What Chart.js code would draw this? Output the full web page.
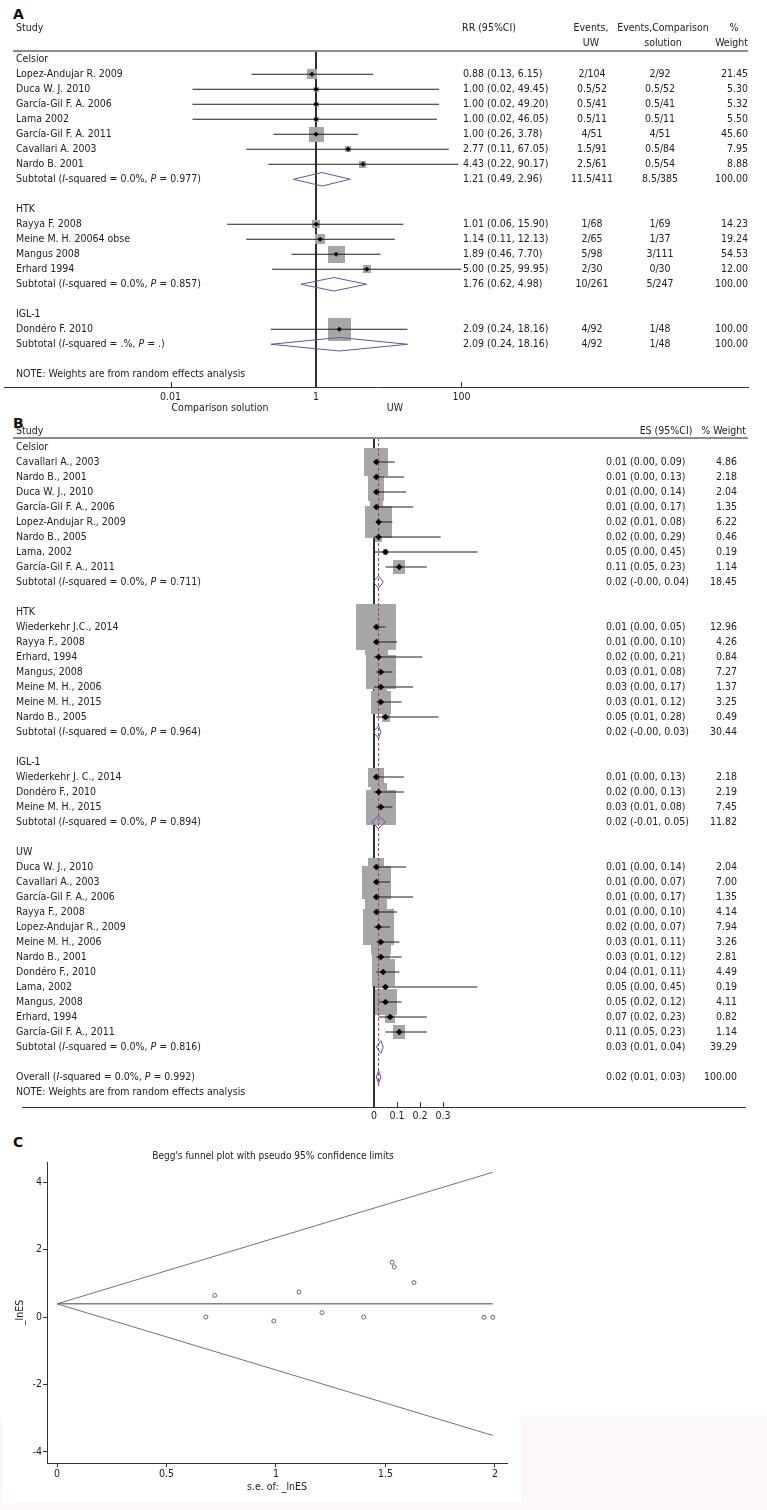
<!DOCTYPE html>
<html>
<head>
<meta charset="utf-8">
<title>Forest and funnel plots</title>
<script src="https://cdn.jsdelivr.net/npm/chart.js@4.4.1/dist/chart.umd.min.js"></script>
<style>
  html, body { margin: 0; padding: 0; background: #fff; }
  #page { position: relative; width: 767px; height: 1510px; overflow: hidden; background: #fff; }
  #page canvas { position: absolute; left: 0; }
  .panel { position: absolute; left: 13px; font: bold 14px 'DejaVu Sans', sans-serif; color: #111; }
  .tint { position: absolute; background: #fdf8f8; }
</style>
</head>
<body>
<div id="page">
  <div class="tint" style="left:0;top:1417px;width:767px;height:93px"></div>
  <div class="tint" style="left:3px;top:1417px;width:518px;height:86px;background:#fff"></div>
  <div class="panel" style="top:6px">A</div>
  <div class="panel" style="top:415px">B</div>
  <div class="panel" style="top:1134px">C</div>
  <canvas id="chartA" width="767" height="420" style="top:0"></canvas>
  <canvas id="chartB" width="767" height="725" style="top:415px"></canvas>
  <canvas id="chartC" width="767" height="370" style="top:1140px"></canvas>
</div>
<script>
'use strict';

/* A: risk ratio UW vs comparison solution; B: pooled incidence by solution; C: Begg's funnel plot. */

// ---------- Panel A data ----------
const A_GROUPS = ['Celsior', 'HTK', 'IGL-1'];
const A_STUDIES = [
  'Lopez-Andujar R. 2009', 'Duca W. J. 2010', 'García-Gil F. A. 2006', 'Lama 2002',
  'García-Gil F. A. 2011', 'Cavallari A. 2003', 'Nardo B. 2001',
  'Rayya F. 2008', 'Meine M. H. 20064 obse', 'Mangus 2008', 'Erhard 1994',
  'Dondéro F. 2010',
];
const A_GROUP_OF = [0, 0, 0, 0, 0, 0, 0, 1, 1, 1, 1, 2];
const A_RR = [0.88, 1.00, 1.00, 1.00, 1.00, 2.77, 4.43, 1.01, 1.14, 1.89, 5.00, 2.09];
const A_LO = [0.13, 0.02, 0.02, 0.02, 0.26, 0.11, 0.22, 0.06, 0.11, 0.46, 0.25, 0.24];
const A_HI = [6.15, 49.45, 49.20, 46.05, 3.78, 67.05, 90.17, 15.90, 12.13, 7.70, 99.95, 18.16];
const A_EV_UW = ['2/104', '0.5/52', '0.5/41', '0.5/11', '4/51', '1.5/91', '2.5/61', '1/68', '2/65', '5/98', '2/30', '4/92'];
const A_EV_CS = ['2/92', '0.5/52', '0.5/41', '0.5/11', '4/51', '0.5/84', '0.5/54', '1/69', '1/37', '3/111', '0/30', '1/48'];
const A_WEIGHT = [21.45, 5.30, 5.32, 5.50, 45.60, 7.95, 8.88, 14.23, 19.24, 54.53, 12.00, 100.00];
const A_SUB_RR = [1.21, 1.76, 2.09];
const A_SUB_LO = [0.49, 0.62, 0.24];
const A_SUB_HI = [2.96, 4.98, 18.16];
const A_SUB_I2 = ['0.0', '0.0', '.'];
const A_SUB_P = ['0.977', '0.857', '.'];
const A_SUB_EV_UW = ['11.5/411', '10/261', '4/92'];
const A_SUB_EV_CS = ['8.5/385', '5/247', '1/48'];
const A_SUB_WEIGHT = [100, 100, 100];
const A_NULL = 1;
const A_TICKS = [0.01, 1, 100];
const A_TICK_LABELS = ['0.01', '1', '100'];

// ---------- Panel B data ----------
const B_GROUPS = ['Celsior', 'HTK', 'IGL-1', 'UW'];
const B_STUDIES = [
  'Cavallari A., 2003', 'Nardo B., 2001', 'Duca W. J., 2010', 'García-Gil F. A., 2006',
  'Lopez-Andujar R., 2009', 'Nardo B., 2005', 'Lama, 2002', 'García-Gil F. A., 2011',
  'Wiederkehr J.C., 2014', 'Rayya F., 2008', 'Erhard, 1994', 'Mangus, 2008',
  'Meine M. H., 2006', 'Meine M. H., 2015', 'Nardo B., 2005',
  'Wiederkehr J. C., 2014', 'Dondéro F., 2010', 'Meine M. H., 2015',
  'Duca W. J., 2010', 'Cavallari A., 2003', 'García-Gil F. A., 2006', 'Rayya F., 2008',
  'Lopez-Andujar R., 2009', 'Meine M. H., 2006', 'Nardo B., 2001', 'Dondéro F., 2010',
  'Lama, 2002', 'Mangus, 2008', 'Erhard, 1994', 'García-Gil F. A., 2011',
];
const B_GROUP_OF = [0, 0, 0, 0, 0, 0, 0, 0, 1, 1, 1, 1, 1, 1, 1, 2, 2, 2,
  3, 3, 3, 3, 3, 3, 3, 3, 3, 3, 3, 3];
const B_ES = [0.01, 0.01, 0.01, 0.01, 0.02, 0.02, 0.05, 0.11,
  0.01, 0.01, 0.02, 0.03, 0.03, 0.03, 0.05,
  0.01, 0.02, 0.03,
  0.01, 0.01, 0.01, 0.01, 0.02, 0.03, 0.03, 0.04, 0.05, 0.05, 0.07, 0.11];
const B_LO = [0.00, 0.00, 0.00, 0.00, 0.01, 0.00, 0.00, 0.05,
  0.00, 0.00, 0.00, 0.01, 0.00, 0.01, 0.01,
  0.00, 0.00, 0.01,
  0.00, 0.00, 0.00, 0.00, 0.00, 0.01, 0.01, 0.01, 0.00, 0.02, 0.02, 0.05];
const B_HI = [0.09, 0.13, 0.14, 0.17, 0.08, 0.29, 0.45, 0.23,
  0.05, 0.10, 0.21, 0.08, 0.17, 0.12, 0.28,
  0.13, 0.13, 0.08,
  0.14, 0.07, 0.17, 0.10, 0.07, 0.11, 0.12, 0.11, 0.45, 0.12, 0.23, 0.23];
const B_WEIGHT = [4.86, 2.18, 2.04, 1.35, 6.22, 0.46, 0.19, 1.14,
  12.96, 4.26, 0.84, 7.27, 1.37, 3.25, 0.49,
  2.18, 2.19, 7.45,
  2.04, 7.00, 1.35, 4.14, 7.94, 3.26, 2.81, 4.49, 0.19, 4.11, 0.82, 1.14];
const B_SUB_ES = [0.02, 0.02, 0.02, 0.03];
const B_SUB_LO = [-0.003, -0.003, -0.01, 0.01];
const B_SUB_HI = [0.04, 0.03, 0.05, 0.04];
const B_SUB_I2 = ['0.0', '0.0', '0.0', '0.0'];
const B_SUB_P = ['0.711', '0.964', '0.894', '0.816'];
const B_SUB_WEIGHT = [18.45, 30.44, 11.82, 39.29];
const B_OVERALL = [0.02, 0.01, 0.03]; // ES, lower, upper
const B_OVERALL_I2 = '0.0';
const B_OVERALL_P = '0.992';
const B_OVERALL_WEIGHT = 100;
const B_NULL = 0;
const B_TICKS = [0, 0.1, 0.2, 0.3];
const B_TICK_LABELS = ['0', '0.1', '0.2', '0.3'];

// ---------- Panel C data ----------
const C_SE = [0.68, 0.72, 0.99, 1.105, 1.21, 1.40, 1.53, 1.54, 1.63, 1.95, 1.99];
const C_LNES = [0.00, 0.64, -0.12, 0.74, 0.13, 0.00, 1.62, 1.48, 1.02, -0.01, -0.01];
const C_LIMIT_SE = [0, 1.99];
const C_UPPER = [0.39, 4.29];
const C_LOWER = [0.39, -3.51];
const C_POOLED = [0.39, 0.39];
const C_X_TICKS = [0, 0.5, 1, 1.5, 2];
const C_Y_TICKS = [4, 2, 0, -2, -4];

// ---------- styling ----------
const FONT = "'DejaVu Sans Condensed', 'Liberation Sans', sans-serif";
const TEXT_SIZE = 10.5;
const TEXT = '#222';
const AXIS = '#333';
const RULE = '#8c8c8c';
const BOX = '#a6a6a6';
const DIAMOND = '#5858a8';
const DASH = '#9c3c6a';
const A_DECADE = 72.7; // px per decade on the RR axis
const B_UNIT = 230;    // px per unit on the ES axis

Chart.defaults.font.family = FONT;
Chart.defaults.font.size = TEXT_SIZE;
Chart.defaults.color = TEXT;

const fmt2 = (v) => v.toFixed(2);
const ci = (e, l, h) => `${fmt2(e)} (${fmt2(l)}, ${fmt2(h)})`;
const plain = (t) => [{ t }];
const hetero = (head, i2, p) => [
  { t: `${head} (` }, { t: 'I', it: true }, { t: `-squared = ${i2}%, ` },
  { t: 'P', it: true }, { t: ` = ${p})` },
];

function drawParts(ctx, parts, x, y, align, size) {
  const fonts = parts.map((p) => `${p.it ? 'italic ' : ''}${size}px ${FONT}`);
  const widths = parts.map((p, i) => { ctx.font = fonts[i]; return ctx.measureText(p.t).width; });
  const total = widths.reduce((a, b) => a + b, 0);
  let cx = align === 'right' ? x - total : align === 'center' ? x - total / 2 : x;
  ctx.textAlign = 'left';
  parts.forEach((p, i) => { ctx.font = fonts[i]; ctx.fillText(p.t, cx, y); cx += widths[i]; });
}

// Column text, heading rule, inward tick marks and tick labels for the forest plots.
const tablePlugin = {
  id: 'table',
  afterDraw(chart, args, opts) {
    const { ctx, chartArea } = chart;
    const ys = chart.scales.y;
    const xs = chart.scales.x;
    ctx.save();
    ctx.fillStyle = TEXT;
    ctx.textBaseline = 'middle';
    opts.cells.forEach((c) => {
      let py;
      if (c.row !== undefined) py = ys.getPixelForValue(c.row);
      else if (c.top !== undefined) py = chartArea.top + c.top;
      else py = chartArea.bottom + c.bottom;
      drawParts(ctx, c.parts, c.x, py, c.align, TEXT_SIZE);
    });
    xs.ticks.forEach((t, i) => {
      drawParts(ctx, plain(opts.tickLabels[i]), xs.getPixelForValue(t.value), chartArea.bottom + opts.tickDy, 'center', TEXT_SIZE);
    });
    ctx.strokeStyle = RULE;
    ctx.lineWidth = 2;
    ctx.beginPath();
    ctx.moveTo(13, chartArea.top);
    ctx.lineTo(748, chartArea.top);
    ctx.stroke();
    ctx.strokeStyle = AXIS;
    ctx.lineWidth = 1;
    xs.ticks.forEach((t) => {
      const px = Math.round(xs.getPixelForValue(t.value)) + 0.5;
      ctx.beginPath();
      ctx.moveTo(px, chartArea.bottom);
      ctx.lineTo(px, chartArea.bottom - 5);
      ctx.stroke();
    });
    ctx.restore();
  },
};

const boxCache = new Map();
function boxImage(w, h) {
  const bw = Math.max(1, Math.round(w));
  const bh = Math.max(1, Math.round(h));
  const key = bw + 'x' + bh;
  if (!boxCache.has(key)) {
    const c = document.createElement('canvas');
    c.width = bw;
    c.height = bh;
    const g = c.getContext('2d');
    g.fillStyle = BOX;
    g.fillRect(0, 0, bw, bh);
    boxCache.set(key, c);
  }
  return boxCache.get(key);
}

function lineSet(points, color, extra) {
  return Object.assign({
    data: points, showLine: true, borderColor: color, borderWidth: 1,
    pointRadius: 0, fill: false, tension: 0, order: 1,
  }, extra || {});
}

// Studies and subtotals -> Chart.js datasets (positions come from the scales).
// Weight boxes use an image point style; their radius stays small so the
// layout does not reserve overflow room around the plot area.
function forestSets(studies, subs, box, dotRadius, diamondHalf) {
  const sets = [];
  sets.push({
    data: studies.map((s) => ({ x: s.est, y: s.row, w: s.w })),
    pointStyle: (c) => boxImage(box.k * Math.sqrt(c.raw.w), box.k * box.aspect * Math.sqrt(c.raw.w)),
    pointRadius: 1,
    borderWidth: 0,
    order: 3,
  });
  studies.forEach((s) => {
    sets.push(lineSet([{ x: s.lo, y: s.row }, { x: s.hi, y: s.row }], '#1e1e1e', { order: 2 }));
  });
  subs.forEach((s) => {
    sets.push(lineSet([
      { x: s.lo, y: s.row }, { x: s.est, y: s.row - diamondHalf },
      { x: s.hi, y: s.row }, { x: s.est, y: s.row + diamondHalf }, { x: s.lo, y: s.row },
    ], DIAMOND, { order: 1 }));
  });
  sets.push({
    data: studies.map((s) => ({ x: s.est, y: s.row })),
    pointStyle: 'rectRot', pointRadius: dotRadius, backgroundColor: '#000',
    borderWidth: 0, order: 0,
  });
  return sets;
}

const forestX = (extra) => Object.assign({
  afterFit: (s) => { s.height = 33; },
  grid: { display: false, drawTicks: false },
  border: { display: true, color: AXIS, width: 1 },
  ticks: { display: false, autoSkip: false },
}, extra);

// ---------- Panel A ----------
const A_COL = { label: 16, rr: 463, evUW: 592, evCS: 660, weight: 748 };
const A_Y = [-0.55, 21.85];
(function buildA() {
  const cells = [
    { top: -23, x: A_COL.label, align: 'left', parts: plain('Study') },
    { top: -23, x: 489, align: 'center', parts: plain('RR (95%CI)') },
    { top: -23, x: 591, align: 'center', parts: plain('Events,') },
    { top: -8, x: 591, align: 'center', parts: plain('UW') },
    { top: -23, x: 663, align: 'center', parts: plain('Events,Comparison') },
    { top: -8, x: 663, align: 'center', parts: plain('solution') },
    { top: -23, x: 734, align: 'center', parts: plain('%') },
    { top: -8, x: 748, align: 'right', parts: plain('Weight') },
    { bottom: 21, x: 220, align: 'center', parts: plain('Comparison solution') },
    { bottom: 21, x: 395, align: 'center', parts: plain('UW') },
  ];
  const studies = [];
  const subs = [];
  let row = 0;
  A_GROUPS.forEach((g, gi) => {
    cells.push({ row, x: A_COL.label, align: 'left', parts: plain(g) });
    row++;
    A_STUDIES.forEach((name, i) => {
      if (A_GROUP_OF[i] !== gi) return;
      cells.push({ row, x: A_COL.label, align: 'left', parts: plain(name) });
      cells.push({ row, x: A_COL.rr, align: 'left', parts: plain(ci(A_RR[i], A_LO[i], A_HI[i])) });
      cells.push({ row, x: A_COL.evUW, align: 'center', parts: plain(A_EV_UW[i]) });
      cells.push({ row, x: A_COL.evCS, align: 'center', parts: plain(A_EV_CS[i]) });
      cells.push({ row, x: A_COL.weight, align: 'right', parts: plain(fmt2(A_WEIGHT[i])) });
      studies.push({ est: A_RR[i], lo: A_LO[i], hi: A_HI[i], w: A_WEIGHT[i], row });
      row++;
    });
    cells.push({ row, x: A_COL.label, align: 'left', parts: hetero('Subtotal', A_SUB_I2[gi], A_SUB_P[gi]) });
    cells.push({ row, x: A_COL.rr, align: 'left', parts: plain(ci(A_SUB_RR[gi], A_SUB_LO[gi], A_SUB_HI[gi])) });
    cells.push({ row, x: A_COL.evUW, align: 'center', parts: plain(A_SUB_EV_UW[gi]) });
    cells.push({ row, x: A_COL.evCS, align: 'center', parts: plain(A_SUB_EV_CS[gi]) });
    cells.push({ row, x: A_COL.weight, align: 'right', parts: plain(fmt2(A_SUB_WEIGHT[gi])) });
    subs.push({ est: A_SUB_RR[gi], lo: A_SUB_LO[gi], hi: A_SUB_HI[gi], row });
    row += 2;
  });
  cells.push({ row, x: A_COL.label, align: 'left', parts: plain('NOTE: Weights are from random effects analysis') });

  const datasets = forestSets(studies, subs, { k: 2.25, aspect: 1 }, 2.6, 0.45);
  datasets.push(lineSet([{ x: A_NULL, y: A_Y[0] }, { x: A_NULL, y: A_Y[1] }], '#111', { order: 4 }));

  new Chart(document.getElementById('chartA'), {
    type: 'scatter',
    data: { datasets },
    options: {
      responsive: false,
      animation: false,
      events: [],
      layout: { padding: { left: 4, right: 19, top: 51, bottom: 0 } },
      plugins: {
        legend: { display: false }, tooltip: { enabled: false },
        table: { cells, tickLabels: A_TICK_LABELS, tickDy: 10 },
      },
      scales: {
        x: forestX({
          type: 'logarithmic',
          min: 10 ** (-312 / A_DECADE),
          max: 10 ** (432 / A_DECADE),
          afterBuildTicks: (s) => { s.ticks = A_TICKS.map((v) => ({ value: v })); },
        }),
        y: { type: 'linear', reverse: true, min: A_Y[0], max: A_Y[1], display: false },
      },
    },
    plugins: [tablePlugin],
  });
})();

// ---------- Panel B ----------
const B_COL = { label: 16, es: 606, weight: 737 };
const B_Y = [-0.6, 44.0];
(function buildB() {
  const cells = [
    { top: -7, x: B_COL.label, align: 'left', parts: plain('Study') },
    { top: -7, x: 666, align: 'center', parts: plain('ES (95%CI)') },
    { top: -7, x: 746, align: 'right', parts: plain('% Weight') },
  ];
  const studies = [];
  const subs = [];
  let row = 0;
  B_GROUPS.forEach((g, gi) => {
    cells.push({ row, x: B_COL.label, align: 'left', parts: plain(g) });
    row++;
    B_STUDIES.forEach((name, i) => {
      if (B_GROUP_OF[i] !== gi) return;
      cells.push({ row, x: B_COL.label, align: 'left', parts: plain(name) });
      cells.push({ row, x: B_COL.es, align: 'left', parts: plain(ci(B_ES[i], B_LO[i], B_HI[i])) });
      cells.push({ row, x: B_COL.weight, align: 'right', parts: plain(fmt2(B_WEIGHT[i])) });
      studies.push({ est: B_ES[i], lo: B_LO[i], hi: B_HI[i], w: B_WEIGHT[i], row });
      row++;
    });
    cells.push({ row, x: B_COL.label, align: 'left', parts: hetero('Subtotal', B_SUB_I2[gi], B_SUB_P[gi]) });
    cells.push({ row, x: B_COL.es, align: 'left', parts: plain(ci(B_SUB_ES[gi], B_SUB_LO[gi], B_SUB_HI[gi])) });
    cells.push({ row, x: B_COL.weight, align: 'right', parts: plain(fmt2(B_SUB_WEIGHT[gi])) });
    subs.push({ est: B_SUB_ES[gi], lo: B_SUB_LO[gi], hi: B_SUB_HI[gi], row });
    row += 2;
  });
  cells.push({ row, x: B_COL.label, align: 'left', parts: hetero('Overall', B_OVERALL_I2, B_OVERALL_P) });
  cells.push({ row, x: B_COL.es, align: 'left', parts: plain(ci(B_OVERALL[0], B_OVERALL[1], B_OVERALL[2])) });
  cells.push({ row, x: B_COL.weight, align: 'right', parts: plain(fmt2(B_OVERALL_WEIGHT)) });
  subs.push({ est: B_OVERALL[0], lo: B_OVERALL[1], hi: B_OVERALL[2], row });
  const overallRow = row;
  row++;
  cells.push({ row, x: B_COL.label, align: 'left', parts: plain('NOTE: Weights are from random effects analysis') });

  const datasets = forestSets(studies, subs, { k: 11, aspect: 1.15 }, 3.3, 0.42);
  datasets.push(lineSet([{ x: B_NULL, y: B_Y[0] }, { x: B_NULL, y: B_Y[1] }], '#111', { order: 4 }));
  datasets.push(lineSet([{ x: B_OVERALL[0], y: B_Y[0] }, { x: B_OVERALL[0], y: overallRow + 0.6 }], DASH,
    { borderDash: [3, 2], order: 1 }));

  new Chart(document.getElementById('chartB'), {
    type: 'scatter',
    data: { datasets },
    options: {
      responsive: false,
      animation: false,
      events: [],
      layout: { padding: { left: 22, right: 22, top: 23, bottom: 0 } },
      plugins: {
        legend: { display: false }, tooltip: { enabled: false },
        table: { cells, tickLabels: B_TICK_LABELS, tickDy: 9 },
      },
      scales: {
        x: forestX({
          type: 'linear',
          min: -352 / B_UNIT,
          max: 371 / B_UNIT,
          afterBuildTicks: (s) => { s.ticks = B_TICKS.map((v) => ({ value: v })); },
        }),
        y: { type: 'linear', reverse: true, min: B_Y[0], max: B_Y[1], display: false },
      },
    },
    plugins: [tablePlugin],
  });
})();

// ---------- Panel C ----------
const funnelTitle = {
  id: 'funnelTitle',
  afterDraw(chart) {
    const { ctx } = chart;
    ctx.save();
    ctx.fillStyle = TEXT;
    ctx.font = `10px ${FONT}`;
    ctx.textAlign = 'center';
    ctx.textBaseline = 'middle';
    ctx.fillText("Begg's funnel plot with pseudo 95% confidence limits", 273, 16);
    ctx.restore();
  },
};

(function buildC() {
  const pair = (xs, ys) => xs.map((x, i) => ({ x, y: ys[i] }));
  new Chart(document.getElementById('chartC'), {
    type: 'scatter',
    data: {
      datasets: [
        lineSet(pair(C_LIMIT_SE, C_UPPER), '#727272'),
        lineSet(pair(C_LIMIT_SE, C_LOWER), '#727272'),
        lineSet(pair(C_LIMIT_SE, C_POOLED), '#444'),
        {
          data: pair(C_SE, C_LNES),
          pointStyle: 'circle', pointRadius: 2, borderWidth: 0.9,
          borderColor: '#5a5a5a', backgroundColor: 'rgba(0,0,0,0)', order: 0,
        },
      ],
    },
    options: {
      responsive: false,
      animation: false,
      events: [],
      layout: { padding: { left: 0, right: 260, top: 22, bottom: 0 } },
      plugins: { legend: { display: false }, tooltip: { enabled: false } },
      scales: {
        x: {
          type: 'linear',
          min: -10 / 219,
          max: 450 / 219,
          afterBuildTicks: (s) => { s.ticks = C_X_TICKS.map((v) => ({ value: v })); },
          afterFit: (s) => { s.height = 47; },
          grid: { display: true, drawOnChartArea: false, drawTicks: true, tickLength: 4, color: AXIS },
          border: { display: true, color: AXIS, width: 1 },
          ticks: { autoSkip: false, maxRotation: 0, padding: 1, color: TEXT, callback: (v) => String(v) },
          title: { display: true, text: 's.e. of: _lnES', color: TEXT, padding: { top: 0, bottom: 16 } },
        },
        y: {
          type: 'linear',
          min: -4.326,
          max: 4.593,
          afterBuildTicks: (s) => { s.ticks = C_Y_TICKS.map((v) => ({ value: v })); },
          afterFit: (s) => { s.width = 47; },
          grid: { display: true, drawOnChartArea: false, drawTicks: true, tickLength: 4, color: AXIS },
          border: { display: true, color: AXIS, width: 1 },
          ticks: { autoSkip: false, padding: 1, color: TEXT, callback: (v) => String(v) },
          title: { display: true, text: '_lnES', color: TEXT, padding: { top: 14, bottom: 0 } },
        },
      },
    },
    plugins: [funnelTitle],
  });
})();
</script>
</body>
</html>
